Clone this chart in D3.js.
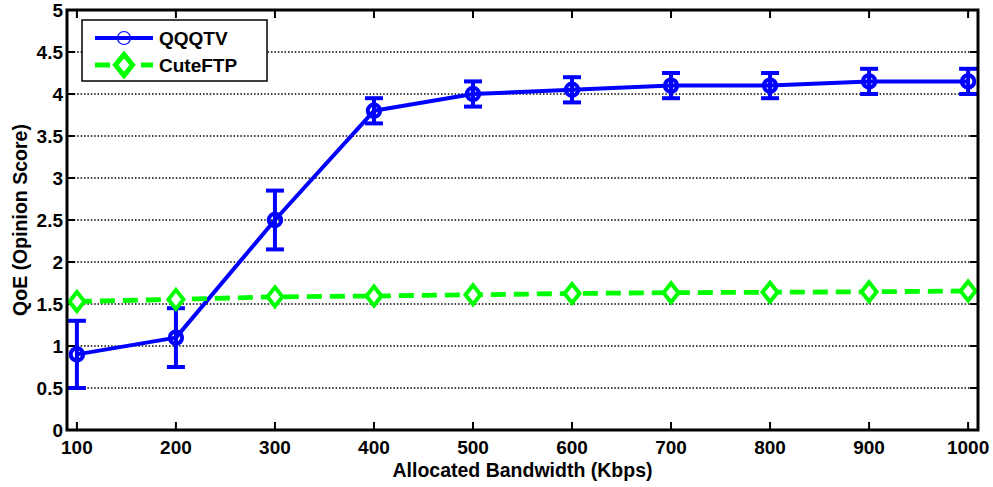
<!DOCTYPE html>
<html>
<head>
<meta charset="utf-8">
<script src="https://cdn.jsdelivr.net/npm/d3@7"></script>
<style>
  html, body { margin: 0; padding: 0; background: #fff; }
  svg { display: block; }
  text { font-family: "Liberation Sans", Arial, Helvetica, sans-serif; font-weight: bold; fill: #000; }
</style>
</head>
<body>
<svg id="chart" width="993" height="487"></svg>
<script>
// ---- Data ----
const bandwidth = [100, 200, 300, 400, 500, 600, 700, 800, 900, 1000];
const qqqtvMean = [0.90, 1.10, 2.50, 3.80, 4.00, 4.05, 4.10, 4.10, 4.15, 4.15];
const qqqtvErr  = [0.40, 0.35, 0.35, 0.15, 0.15, 0.15, 0.15, 0.15, 0.15, 0.15];
const cuteftp   = [1.53, 1.555, 1.585, 1.595, 1.61, 1.625, 1.635, 1.64, 1.645, 1.655];
const xTicks = [100, 200, 300, 400, 500, 600, 700, 800, 900, 1000];
const yTicks = [0, 0.5, 1, 1.5, 2, 2.5, 3, 3.5, 4, 4.5, 5];
const seriesNames = ["QQQTV", "CuteFTP"];
const xLabel = "Allocated Bandwidth (Kbps)";
const yLabel = "QoE (Opinion Score)";

// ---- Layout ----
const svg = d3.select("#chart");
const L = 67, R = 978, T = 10, B = 430;
const x = d3.scaleLinear().domain([90, 1010]).range([L, R]);
const y = d3.scaleLinear().domain([0, 5]).range([B, T]);
const BLUE = "#0000ff", GREEN = "#00ff00";

// grid
svg.append("g").selectAll("line").data(yTicks.filter(v => v > 0 && v < 5)).join("line")
  .attr("x1", L).attr("x2", R)
  .attr("y1", d => y(d)).attr("y2", d => y(d))
  .attr("stroke", "#000").attr("stroke-width", 1.6)
  .attr("stroke-dasharray", "1.5 1.9");

// ticks (inward, all four sides)
const tk = 8;
const axisG = svg.append("g").attr("stroke", "#000").attr("stroke-width", 2);
axisG.selectAll(".xb").data(xTicks).join("line")
  .attr("x1", d => x(d)).attr("x2", d => x(d)).attr("y1", B).attr("y2", B - tk);
axisG.selectAll(".xt").data(xTicks).join("line")
  .attr("x1", d => x(d)).attr("x2", d => x(d)).attr("y1", T).attr("y2", T + tk);
axisG.selectAll(".yl").data(yTicks).join("line")
  .attr("x1", L).attr("x2", L + tk).attr("y1", d => y(d)).attr("y2", d => y(d));
axisG.selectAll(".yr").data(yTicks).join("line")
  .attr("x1", R).attr("x2", R - tk).attr("y1", d => y(d)).attr("y2", d => y(d));

// tick labels
svg.append("g").selectAll("text").data(xTicks).join("text")
  .attr("x", d => x(d)).attr("y", 454)
  .attr("text-anchor", "middle").attr("font-size", 19)
  .text(d => d);
svg.append("g").selectAll("text").data(yTicks).join("text")
  .attr("x", L - 4).attr("y", d => y(d) + 6.5)
  .attr("text-anchor", "end").attr("font-size", 19)
  .text(d => d);

// axis labels
svg.append("text").attr("x", (L + R) / 2).attr("y", 477)
  .attr("text-anchor", "middle").attr("font-size", 19.5).text(xLabel);
svg.append("text").attr("transform", `translate(27,${(T + B) / 2}) rotate(-90)`)
  .attr("text-anchor", "middle").attr("font-size", 19.5).text(yLabel);

// QQQTV line
const qData = bandwidth.map((b, i) => ({ b, m: qqqtvMean[i], e: qqqtvErr[i] }));
svg.append("path").datum(qData)
  .attr("d", d3.line().x(d => x(d.b)).y(d => y(d.m)))
  .attr("fill", "none").attr("stroke", BLUE).attr("stroke-width", 4)
  .attr("stroke-linejoin", "round");
const eg = svg.append("g").attr("stroke", BLUE).attr("stroke-width", 4);
eg.selectAll(".v").data(qData).join("line")
  .attr("x1", d => x(d.b)).attr("x2", d => x(d.b))
  .attr("y1", d => y(d.m - d.e)).attr("y2", d => y(d.m + d.e));
eg.selectAll(".ct").data(qData).join("line")
  .attr("x1", d => x(d.b) - 9).attr("x2", d => x(d.b) + 9)
  .attr("y1", d => y(d.m + d.e)).attr("y2", d => y(d.m + d.e));
eg.selectAll(".cb").data(qData).join("line")
  .attr("x1", d => x(d.b) - 9).attr("x2", d => x(d.b) + 9)
  .attr("y1", d => y(d.m - d.e)).attr("y2", d => y(d.m - d.e));
svg.append("g").selectAll("circle").data(qData).join("circle")
  .attr("cx", d => x(d.b)).attr("cy", d => y(d.m)).attr("r", 6.2)
  .attr("fill", "none").attr("stroke", BLUE).attr("stroke-width", 4);

// CuteFTP line
const cData = bandwidth.map((b, i) => ({ b, v: cuteftp[i] }));
svg.append("path").datum(cData)
  .attr("d", d3.line().x(d => x(d.b)).y(d => y(d.v)))
  .attr("fill", "none").attr("stroke", GREEN).attr("stroke-width", 4.8)
  .attr("stroke-dasharray", "15 8");
const diamond = (cx, cy, w, h) => `M${cx},${cy - h}L${cx + w},${cy}L${cx},${cy + h}L${cx - w},${cy}Z`;
svg.append("g").selectAll("path").data(cData).join("path")
  .attr("d", d => diamond(x(d.b), y(d.v), 7.5, 9.5))
  .attr("fill", "#fff").attr("stroke", GREEN).attr("stroke-width", 4)
  .attr("stroke-linejoin", "miter");

// frame
svg.append("rect").attr("x", L).attr("y", T).attr("width", R - L).attr("height", B - T)
  .attr("fill", "none").attr("stroke", "#000").attr("stroke-width", 3);

// legend
const lg = svg.append("g");
lg.append("rect").attr("x", 82).attr("y", 20).attr("width", 185).attr("height", 61)
  .attr("fill", "#fff").attr("stroke", "#000").attr("stroke-width", 1.5);
const ly = [38, 65];
lg.append("line").attr("x1", 95).attr("x2", 153).attr("y1", ly[0]).attr("y2", ly[0])
  .attr("stroke", BLUE).attr("stroke-width", 4);
lg.append("circle").attr("cx", 124).attr("cy", ly[0]).attr("r", 6.5)
  .attr("fill", "none").attr("stroke", BLUE).attr("stroke-width", 1.2);
lg.append("line").attr("x1", 95).attr("x2", 153).attr("y1", ly[1]).attr("y2", ly[1])
  .attr("stroke", GREEN).attr("stroke-width", 4.8).attr("stroke-dasharray", "15 8");
lg.append("path").attr("d", diamond(124, ly[1], 8.5, 10.5))
  .attr("fill", "#fff").attr("stroke", GREEN).attr("stroke-width", 5);
lg.selectAll("text").data(seriesNames).join("text")
  .attr("x", 159).attr("y", (d, i) => ly[i] + 7)
  .attr("font-size", 19).text(d => d);
</script>
</body>
</html>
